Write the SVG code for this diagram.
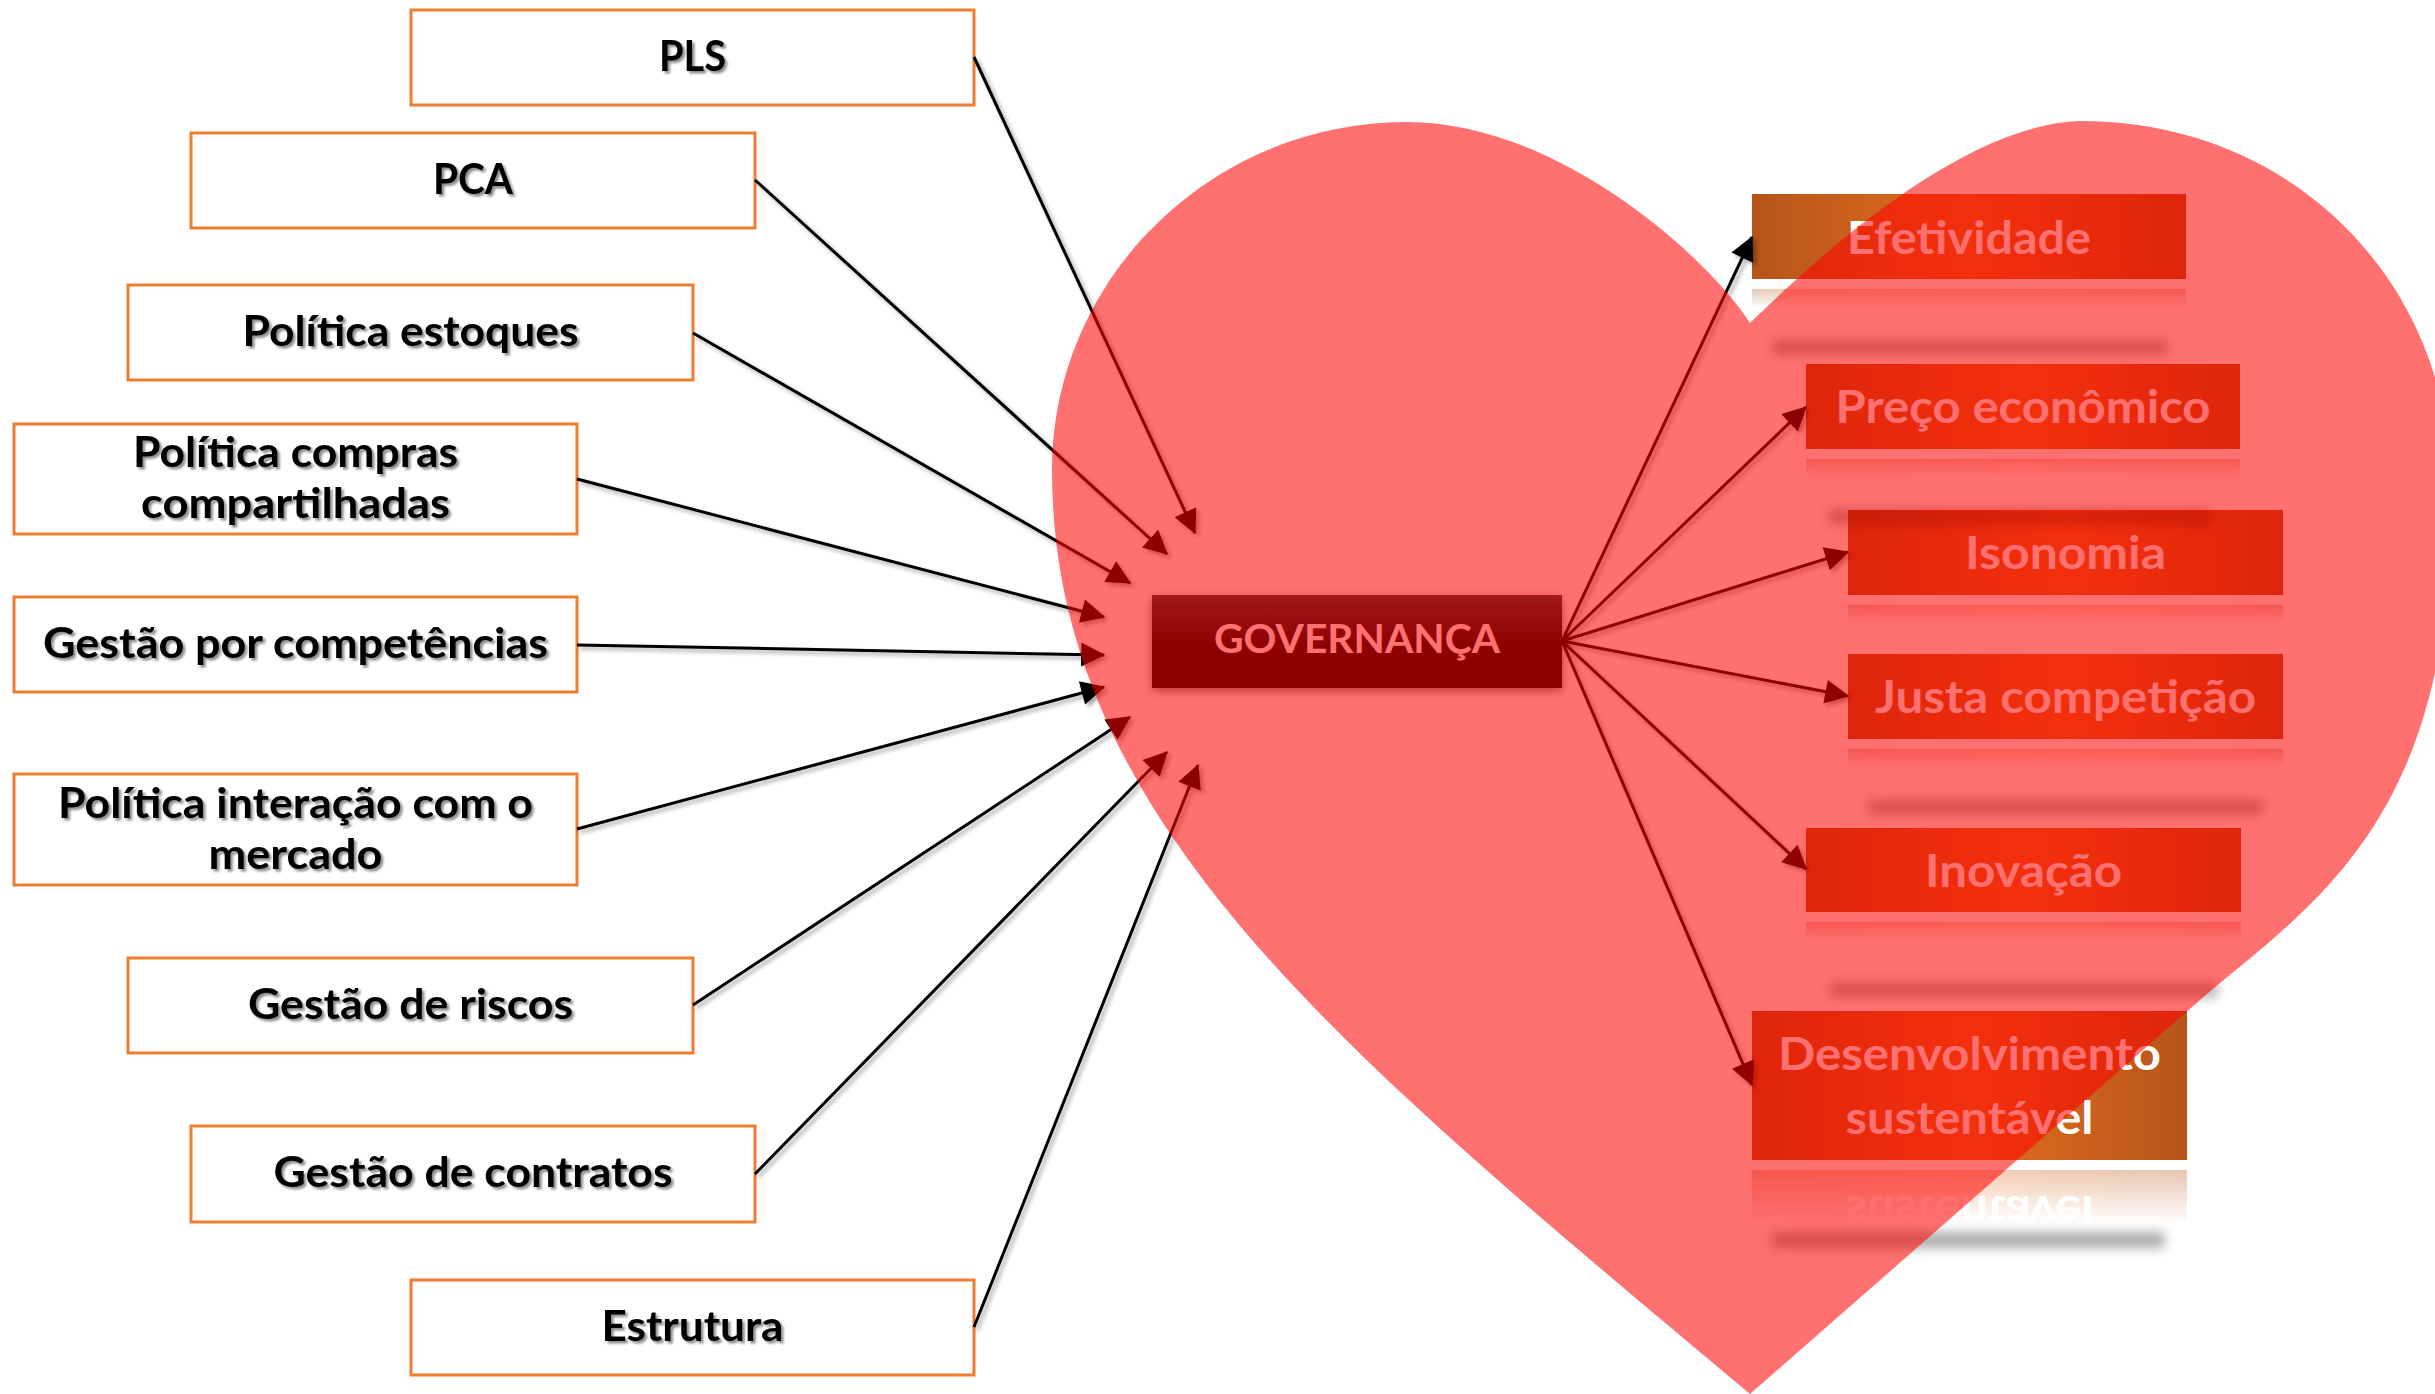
<svg xmlns="http://www.w3.org/2000/svg" xmlns:xlink="http://www.w3.org/1999/xlink" width="2435" height="1394" viewBox="0 0 2435 1394">
<style>
.lb{fill:#fff;stroke:#ED7D31;stroke-width:3}
.lt{font-family:Lato,"Open Sans","DejaVu Sans",sans-serif;font-weight:700;font-size:42px;fill:#000;text-anchor:middle;filter:url(#tsh)}
.rb{fill:url(#og)}
.rt{font-family:Lato,"Open Sans","DejaVu Sans",sans-serif;font-weight:700;font-size:46px;fill:#fff;text-anchor:middle}
.gt{font-family:Lato,"Open Sans","DejaVu Sans",sans-serif;font-weight:700;font-size:40px;fill:#fff;text-anchor:middle}
.cn{stroke:#000;stroke-width:3;fill:none;marker-end:url(#ah)}
.sh{fill:#000;opacity:.32;filter:url(#bl)}
</style>
<defs>
<linearGradient id="og" x1="0" y1="0" x2="1" y2="0">
<stop offset="0" stop-color="#B5551A"/><stop offset="0.5" stop-color="#E46D1E"/><stop offset="1" stop-color="#B5551A"/>
</linearGradient>
<linearGradient id="gg" x1="0" y1="0" x2="0" y2="1">
<stop offset="0" stop-color="#2C3C40"/><stop offset="0.55" stop-color="#000"/><stop offset="1" stop-color="#000"/>
</linearGradient>
<linearGradient id="rg" x1="0" y1="0" x2="0" y2="1">
<stop offset="0" stop-color="#fff" stop-opacity="0.32"/><stop offset="0.22" stop-color="#fff" stop-opacity="0"/>
</linearGradient>
<linearGradient id="rg2" x1="0" y1="0" x2="0" y2="1">
<stop offset="0" stop-color="#fff" stop-opacity="0.34"/><stop offset="0.36" stop-color="#fff" stop-opacity="0"/>
</linearGradient>
<mask id="rm" maskContentUnits="objectBoundingBox"><rect x="0" y="0" width="1" height="1" fill="url(#rg)"/></mask>
<mask id="rm2" maskContentUnits="objectBoundingBox"><rect x="0" y="0" width="1" height="1" fill="url(#rg2)"/></mask>
<filter id="tsh" x="-5%" y="-30%" width="115%" height="170%"><feDropShadow dx="2.5" dy="2.5" stdDeviation="1.2" flood-color="#000" flood-opacity="0.45"/></filter>
<filter id="bl" x="-20%" y="-300%" width="140%" height="700%"><feGaussianBlur stdDeviation="6"/></filter>
<filter id="csh" x="-5%" y="-5%" width="110%" height="110%"><feDropShadow dx="3" dy="3" stdDeviation="2" flood-color="#000" flood-opacity="0.35"/></filter>
<filter id="gsh" x="-10%" y="-20%" width="120%" height="150%"><feDropShadow dx="0" dy="3" stdDeviation="4" flood-color="#000" flood-opacity="0.5"/></filter>
<marker id="ah" viewBox="0 0 10 10" refX="9.5" refY="5" markerWidth="10" markerHeight="8" orient="auto" markerUnits="strokeWidth"><path d="M0,0 L10,5 L0,10 z" fill="#000"/></marker>
</defs>

<g id="n-pls"><rect class="lb" x="411" y="10" width="563" height="95"/><text class="lt" x="692.5" y="70.5" textLength="67" lengthAdjust="spacingAndGlyphs">PLS</text></g>
<g id="n-pca"><rect class="lb" x="191" y="133" width="564" height="95"/><text class="lt" x="473" y="193.5" textLength="80" lengthAdjust="spacingAndGlyphs">PCA</text></g>
<g id="n-estoques"><rect class="lb" x="128" y="285" width="565" height="95"/><text class="lt" x="410.5" y="345.5" textLength="336" lengthAdjust="spacingAndGlyphs">Política estoques</text></g>
<g id="n-compras"><rect class="lb" x="14" y="424" width="563" height="110"/><text class="lt" x="295.5" y="466.5" textLength="325" lengthAdjust="spacingAndGlyphs">Política compras</text><text class="lt" x="295.5" y="518" textLength="309" lengthAdjust="spacingAndGlyphs">compartilhadas</text></g>
<g id="n-competencias"><rect class="lb" x="14" y="597" width="563" height="95"/><text class="lt" x="295.5" y="657.5" textLength="505" lengthAdjust="spacingAndGlyphs">Gestão por competências</text></g>
<g id="n-interacao"><rect class="lb" x="14" y="774" width="563" height="111"/><text class="lt" x="295.5" y="818" textLength="475" lengthAdjust="spacingAndGlyphs">Política interação com o</text><text class="lt" x="295.5" y="869" textLength="174" lengthAdjust="spacingAndGlyphs">mercado</text></g>
<g id="n-riscos"><rect class="lb" x="128" y="958" width="565" height="95"/><text class="lt" x="410.5" y="1018.5" textLength="325" lengthAdjust="spacingAndGlyphs">Gestão de riscos</text></g>
<g id="n-contratos"><rect class="lb" x="191" y="1126" width="564" height="96"/><text class="lt" x="473" y="1187" textLength="399" lengthAdjust="spacingAndGlyphs">Gestão de contratos</text></g>
<g id="n-estrutura"><rect class="lb" x="411" y="1280" width="563" height="95"/><text class="lt" x="692.5" y="1340.5" textLength="182" lengthAdjust="spacingAndGlyphs">Estrutura</text></g>

<g id="n-governanca"><rect x="1152" y="595" width="410" height="93" fill="url(#gg)" filter="url(#gsh)"/><text class="gt" x="1357" y="653" textLength="286" lengthAdjust="spacingAndGlyphs">GOVERNANÇA</text></g>

<g id="n-efetividade">
<g id="b-efe"><rect class="rb" x="1752" y="194" width="434" height="85"/><text class="rt" x="1969" y="253.5" textLength="244" lengthAdjust="spacingAndGlyphs">Efetividade</text></g>
<g mask="url(#rm)"><use xlink:href="#b-efe" href="#b-efe" transform="matrix(1,0,0,-1,0,568)"/></g>
<rect class="sh" x="1772" y="340" width="396" height="14"/>
</g>
<g id="n-isonomia">
<g id="b-iso"><rect class="rb" x="1848" y="510" width="435" height="85"/><text class="rt" x="2065.5" y="569" textLength="201" lengthAdjust="spacingAndGlyphs">Isonomia</text></g>
<g mask="url(#rm)"><use xlink:href="#b-iso" href="#b-iso" transform="matrix(1,0,0,-1,0,1200)"/></g>
</g>
<g id="n-preco">
<g id="b-pre"><rect class="rb" x="1806" y="364" width="434" height="85"/><text class="rt" x="2023" y="423" textLength="375" lengthAdjust="spacingAndGlyphs">Preço econômico</text></g>
<g mask="url(#rm)"><use xlink:href="#b-pre" href="#b-pre" transform="matrix(1,0,0,-1,0,908)"/></g>
<rect class="sh" x="1828" y="510" width="384" height="14"/>
</g>
<g id="n-justa">
<g id="b-jus"><rect class="rb" x="1848" y="654" width="435" height="85"/><text class="rt" x="2065.5" y="713" textLength="381" lengthAdjust="spacingAndGlyphs">Justa competição</text></g>
<g mask="url(#rm)"><use xlink:href="#b-jus" href="#b-jus" transform="matrix(1,0,0,-1,0,1488)"/></g>
<rect class="sh" x="1868" y="800" width="395" height="14"/>
</g>
<g id="n-inovacao">
<g id="b-ino"><rect class="rb" x="1806" y="828" width="435" height="84"/><text class="rt" x="2023.5" y="887" textLength="197" lengthAdjust="spacingAndGlyphs">Inovação</text></g>
<g mask="url(#rm)"><use xlink:href="#b-ino" href="#b-ino" transform="matrix(1,0,0,-1,0,1834)"/></g>
<rect class="sh" x="1830" y="983" width="388" height="14"/>
</g>
<g id="n-desenvolvimento">
<g id="b-des"><rect class="rb" x="1752" y="1011" width="435" height="149"/><text class="rt" x="1969.5" y="1070" textLength="383" lengthAdjust="spacingAndGlyphs">Desenvolvimento</text><text class="rt" x="1969.5" y="1134" textLength="248" lengthAdjust="spacingAndGlyphs">sustentável</text></g>
<g mask="url(#rm2)"><use xlink:href="#b-des" href="#b-des" transform="matrix(1,0,0,-1,0,2330)"/></g>
<rect class="sh" x="1772" y="1232" width="393" height="16"/>
</g>

<g id="connectors" filter="url(#csh)">
<line class="cn" x1="974" y1="57" x2="1195" y2="533"/>
<line class="cn" x1="755" y1="180" x2="1167" y2="554"/>
<line class="cn" x1="693" y1="333" x2="1130" y2="583"/>
<line class="cn" x1="577" y1="479" x2="1104" y2="617"/>
<line class="cn" x1="577" y1="645" x2="1104" y2="655"/>
<line class="cn" x1="577" y1="829" x2="1104" y2="687"/>
<line class="cn" x1="693" y1="1005" x2="1130" y2="717"/>
<line class="cn" x1="755" y1="1174" x2="1167" y2="752"/>
<line class="cn" x1="974" y1="1327" x2="1198" y2="765"/>
<line class="cn" x1="1562" y1="641" x2="1752" y2="237"/>
<line class="cn" x1="1562" y1="641" x2="1806" y2="407"/>
<line class="cn" x1="1562" y1="641" x2="1848" y2="552"/>
<line class="cn" x1="1562" y1="641" x2="1848" y2="696"/>
<line class="cn" x1="1562" y1="641" x2="1806" y2="869"/>
<line class="cn" x1="1562" y1="641" x2="1752" y2="1085"/>
</g>

<g id="heart"><path d="M1750 1394 C1340 1050 1052 820 1052 470 C1052 280 1210 122 1407 122 C1560 122 1710 260 1750 323 C1790 285 1950 125 2080 121 C2300 121 2450 290 2450 480 C2460 820 2310 905 2200 1000 L1750 1394 Z" fill="#FF0000" fill-opacity="0.56"/></g>
</svg>
